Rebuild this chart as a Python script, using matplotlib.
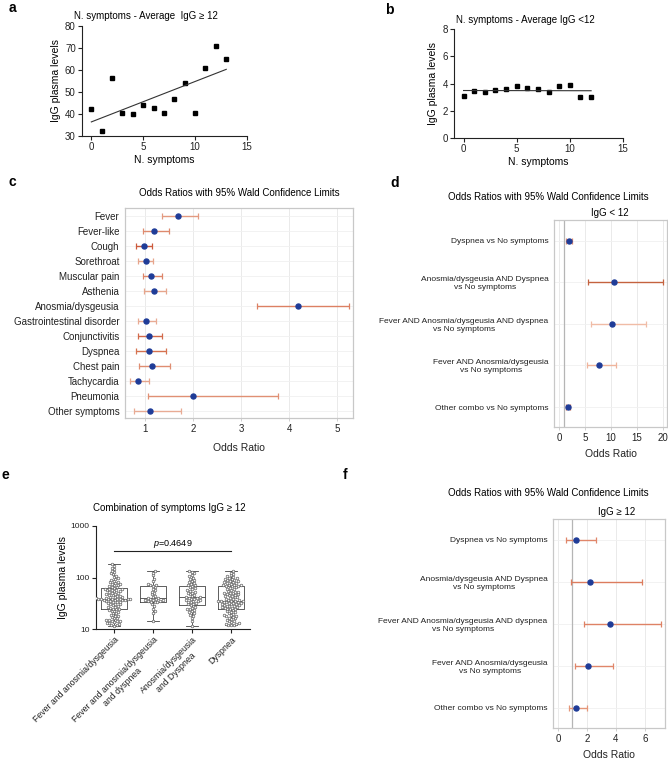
import numpy as np
import matplotlib
matplotlib.use("Agg")
import matplotlib.pyplot as plt

plt.rcParams['font.family'] = ['Liberation Sans', 'DejaVu Sans']
plt.rcParams['mathtext.fontset'] = 'custom'
plt.rcParams['mathtext.it'] = 'Liberation Sans:italic'
plt.rcParams['mathtext.rm'] = 'Liberation Sans'

# ---------------- data ----------------
# panel a
a_x = [0, 1, 2, 3, 4, 5, 6, 7, 8, 9, 10, 11, 12, 13]
a_y = [42.3, 32.3, 56.5, 40.5, 39.8, 44.0, 42.8, 40.5, 47.0, 54.0, 40.5, 60.7, 71.0, 65.0]
# panel b
b_x = [0, 1, 2, 3, 4, 5, 6, 7, 8, 9, 10, 11, 12]
b_y = [3.05, 3.45, 3.4, 3.5, 3.6, 3.8, 3.7, 3.6, 3.4, 3.8, 3.9, 3.0, 3.0]

# panel c
c_labels = ["Fever", "Fever-like", "Cough", "Sorethroat", "Muscular pain", "Asthenia",
            "Anosmia/dysgeusia", "Gastrointestinal disorder", "Conjunctivitis", "Dyspnea",
            "Chest pain", "Tachycardia", "Pneumonia", "Other symptoms"]
c_or = [1.68, 1.19, 0.97, 1.01, 1.13, 1.18, 4.18, 1.01, 1.08, 1.08, 1.15, 0.86, 1.99, 1.10]
c_lo = [1.36, 0.95, 0.80, 0.85, 0.95, 0.97, 3.34, 0.85, 0.86, 0.80, 0.88, 0.68, 1.05, 0.77]
c_hi = [2.11, 1.49, 1.15, 1.17, 1.36, 1.43, 5.24, 1.22, 1.36, 1.44, 1.51, 1.09, 3.76, 1.74]

# panels d / f
combo_labels = ["Dyspnea vs No symptoms",
                "Anosmia/dysgeusia AND Dyspnea\nvs No symptoms",
                "Fever AND Anosmia/dysgeusia AND dyspnea\nvs No symptoms",
                "Fever AND Anosmia/dysgeusia\nvs No symptoms",
                "Other combo vs No symptoms"]
d_or = [1.8, 10.6, 10.15, 7.67, 1.7]
d_lo = [1.28, 5.56, 6.13, 5.37, 1.35]
d_hi = [2.43, 20.1, 16.7, 10.9, 2.1]
f_or = [1.24, 2.22, 3.59, 2.10, 1.26]
f_lo = [0.55, 0.87, 1.83, 1.21, 0.76]
f_hi = [2.63, 5.81, 7.09, 3.78, 1.97]

# panel e
e_labels = ["Fever and anosmia/dysgeusia",
            "Fever and anosmia/dysgeusia\nand dyspnea",
            "Anosmia/dysgeusia\nand Dyspnea",
            "Dyspnea"]
e_g1 = [11.6, 12, 12, 12.5, 13, 13, 13.5, 14, 14, 14.5, 15, 15, 16, 16, 17, 17.5, 18, 19, 20, 20,
        21, 22, 22.5, 23, 24,
        24.5, 25, 26, 27, 27, 28, 29, 30, 30, 31, 32, 33, 33, 34, 35, 35, 36, 36, 37, 37, 37.5,
        38, 38, 38, 38,
        38.5, 39, 39, 40, 40, 41, 41, 42, 43, 44, 45, 46, 47, 48, 50, 51, 52, 54, 55, 56, 57,
        58, 59, 60, 61,
        62, 64, 66, 68, 70, 72, 74, 76, 78, 80, 83, 86, 90, 94, 98, 102, 108, 115, 120, 128,
        135, 145, 155, 168, 180]
e_g2 = [14.5, 20, 22, 25, 28, 31, 33, 34, 34, 35, 35, 36, 36, 37, 38, 39, 40, 40.5, 42, 44,
        47, 50, 53, 56, 60, 64, 68, 70, 72, 76, 85, 95, 110, 125, 134]
e_g3 = [11.6, 14, 16, 18, 19, 20, 21, 22, 23, 24, 25, 26, 27, 29,
        30, 31, 32, 33, 34, 35, 35, 36, 37, 38, 39, 40, 40, 41,
        42, 43, 45, 47, 49, 51, 53, 55, 57, 60, 62, 65, 67.7,
        70, 72, 75, 78, 82, 86, 90, 95, 100, 106, 112, 120, 128, 134]
e_g4 = [12, 12, 12, 12.5, 12.5, 13, 13.5, 14, 14.5, 15, 15.5, 16, 16.5, 17, 17.5, 18, 18.5,
        19, 19.5, 20, 21, 21.5, 22, 23, 24,
        24.5, 25, 25.5, 26, 26.5, 27, 27.5, 28, 28.5, 29, 29.5, 30, 30.5, 31, 31.5, 32, 32.5,
        33, 33.5, 34, 34.5, 35, 35, 35.5, 35.5,
        36, 37, 38, 39, 40, 41, 42, 43, 44, 45, 46, 47, 48, 49, 50, 51, 52, 53, 55, 57, 59, 61,
        63, 65, 67,
        68, 69, 70, 71, 72, 73, 75, 77, 78, 80, 82, 84, 86, 88, 90, 92, 94, 96, 98, 101, 105,
        110, 116, 124, 134]
e_q1 = [24, 34, 29, 24]
e_med = [37.8, 40.5, 41, 35.5]
e_q3 = [61.6, 69, 67.7, 67]
e_min = [11.6, 14.5, 11.6, 12]
e_max = [180, 134, 134, 134]
e_pvalue = "0.4649"

# ---------------- figure ----------------
W, H = 668, 762
fig = plt.figure(figsize=(W / 100, H / 100), dpi=100)


def ax_px(x0, y0, x1, y1):
    return fig.add_axes([x0 / W, 1 - y1 / H, (x1 - x0) / W, (y1 - y0) / H])


def ftext(x, y, s, **kw):
    fig.text(x / W, 1 - y / H, s, **kw)


def prism(ax):
    for s in ['top', 'right']:
        ax.spines[s].set_visible(False)
    for s in ['left', 'bottom']:
        ax.spines[s].set_linewidth(0.8)
        ax.spines[s].set_color('#222222')
    ax.tick_params(direction='out', length=3, width=0.8, labelsize=7, colors='#222222', pad=1.5)


# ---- a ----
axa = ax_px(82, 26, 247, 136)
prism(axa)
axa.plot(a_x, a_y, 's', color='black', markersize=3.4)
pa = np.polyfit(a_x, a_y, 1)
xx = np.array([min(a_x), max(a_x)])
axa.plot(xx, np.polyval(pa, xx), color='#333333', lw=0.8)
axa.set_xlim(-0.9, 15)
axa.set_ylim(30, 80)
axa.set_xticks([0, 5, 10, 15])
axa.set_yticks([30, 40, 50, 60, 70, 80])
axa.set_xlabel("N. symptoms", fontsize=7.5, labelpad=2)
axa.set_ylabel("IgG plasma levels", fontsize=7.5, labelpad=3)
ftext(146, 16, "N. symptoms - Average  IgG \u2265 12", fontsize=7, ha='center', va='center')
ftext(12, 8, "a", fontsize=10, fontweight='bold', ha='center', va='center')

# ---- b ----
axb = ax_px(454, 29, 623, 138)
prism(axb)
axb.plot(b_x, b_y, 's', color='black', markersize=3.4)
pb = np.polyfit(b_x, b_y, 1)
xx = np.array([min(b_x), max(b_x)])
axb.plot(xx, np.polyval(pb, xx), color='#333333', lw=0.8)
axb.set_xlim(-0.9, 15)
axb.set_ylim(0, 8)
axb.set_xticks([0, 5, 10, 15])
axb.set_yticks([0, 2, 4, 6, 8])
axb.set_xlabel("N. symptoms", fontsize=7.5, labelpad=2)
axb.set_ylabel("IgG plasma levels", fontsize=7.5, labelpad=3)
ftext(525, 20, "N. symptoms - Average IgG <12", fontsize=7, ha='center', va='center')
ftext(389, 10, "b", fontsize=10, fontweight='bold', ha='center', va='center')

# ---- forest style ----
DOT = '#1f3c98'


def forest(ax, labels, orv, lo, hi, colors, xlim, xticks, ref=None, lblsize=7):
    n = len(labels)
    ys = np.arange(n)
    ax.set_xlim(*xlim)
    ax.set_ylim(n - 0.52, -0.5)
    for s in ax.spines.values():
        s.set_color('#c8c8c8')
        s.set_linewidth(0.9)
    ax.set_xticks(xticks)
    ax.set_yticks(ys)
    ax.set_yticklabels(labels, fontsize=lblsize, multialignment='center')
    ax.tick_params(axis='y', length=0, pad=4, colors='#222222')
    ax.tick_params(axis='x', length=2.5, width=0.6, color='#c8c8c8', labelsize=7,
                   labelcolor='#222222', pad=2)
    for xt in xticks:
        ax.axvline(xt, color='#e6e6e6', lw=0.6, zorder=0)
    for y in ys:
        ax.axhline(y, color='#f0f0f0', lw=0.6, zorder=0)
    if ref is not None:
        ax.axvline(ref, color='#b5b5b5', lw=0.9, zorder=1)
    for i in range(n):
        ax.errorbar(orv[i], ys[i], xerr=[[orv[i] - lo[i]], [hi[i] - orv[i]]], fmt='none',
                    ecolor=colors[i], elinewidth=1.0, capsize=2.2, capthick=0.9, zorder=2)
        ax.plot(orv[i], ys[i], 'o', color=DOT, markersize=3.6, zorder=3)
    ax.set_xlabel("Odds Ratio", fontsize=7.5, color='#222222')


# ---- c ----
axc = ax_px(125, 208, 353, 418)
c_colors = ['#e39a80', '#de8a6e', '#cc5a3c', '#e6a58c', '#dd8569', '#e6a58c', '#dc8063',
            '#e8ab94', '#d26a4b', '#d6724f', '#df8d71', '#e6a58c', '#e09074', '#e8ab94']
forest(axc, c_labels, c_or, c_lo, c_hi, c_colors, (0.58, 5.33), [1, 2, 3, 4, 5])
axc.xaxis.labelpad = 6
ftext(239, 193, "Odds Ratios with 95% Wald Confidence Limits", fontsize=7, ha='center',
      va='center')
ftext(12, 182, "c", fontsize=10, fontweight='bold', ha='center', va='center')

# ---- d ----
axd = ax_px(554, 220, 667, 427)
d_colors = ['#e0866a', '#c4623f', '#f0bca6', '#efb49c', '#d8704f']
forest(axd, combo_labels, d_or, d_lo, d_hi, d_colors, (-1, 20.8), [0, 5, 10, 15, 20],
       ref=1, lblsize=6)
axd.xaxis.labelpad = 4
ftext(548, 197, "Odds Ratios with 95% Wald Confidence Limits", fontsize=7, ha='center',
      va='center')
ftext(610, 213, "IgG < 12", fontsize=7, ha='center', va='center')
ftext(395, 183, "d", fontsize=10, fontweight='bold', ha='center', va='center')

# ---- f ----
axf = ax_px(553, 519, 665, 728)
f_colors = ['#e0866a', '#dc7c5e', '#de8265', '#e0866a', '#e59678']
forest(axf, combo_labels, f_or, f_lo, f_hi, f_colors, (-0.34, 7.38), [0, 2, 4, 6],
       ref=1, lblsize=6)
axf.xaxis.labelpad = 4
ftext(548, 493, "Odds Ratios with 95% Wald Confidence Limits", fontsize=7, ha='center',
      va='center')
ftext(617, 512, "IgG \u2265 12", fontsize=7, ha='center', va='center')
ftext(345, 475, "f", fontsize=10, fontweight='bold', ha='center', va='center')

# ---- e ----
axe = ax_px(96, 526, 250, 629)
prism(axe)
axe.set_yscale('log')
axe.set_ylim(10, 1000)
axe.set_xlim(-0.46, 3.49)
axe.set_yticks([10, 100, 1000])
axe.set_yticklabels(["10", "100", "1000"])
axe.yaxis.set_minor_locator(matplotlib.ticker.NullLocator())
axe.tick_params(labelsize=6)
axe.set_xticks(range(4))
axe.set_xticklabels(e_labels, rotation=45, ha='right', rotation_mode='anchor',
                    multialignment='center', fontsize=6.3)
axe.set_ylabel("IgG plasma levels", fontsize=7.5, labelpad=2)

stats = []
for i in range(4):
    stats.append(dict(med=e_med[i], q1=e_q1[i], q3=e_q3[i], whislo=e_min[i],
                      whishi=e_max[i], fliers=[]))
axe.bxp(stats, positions=range(4), widths=0.68, showfliers=False,
        boxprops=dict(color='#444444', lw=0.6),
        whiskerprops=dict(color='#444444', lw=0.6),
        capprops=dict(color='#444444', lw=0.6),
        medianprops=dict(color='#444444', lw=0.6), capwidths=0.3, manage_ticks=False)


def swarm(ax, xc, vals, diam):
    pts = ax.transData.transform(np.column_stack([np.full(len(vals), xc, dtype=float),
                                                  np.asarray(vals, dtype=float)]))
    order = np.argsort(pts[:, 1], kind='stable')
    placed = []
    out = pts.copy()
    for i in order:
        cx, y = pts[i]
        cands = [0.0]
        for px, py in placed:
            dy = y - py
            if abs(dy) < diam:
                dx = np.sqrt(diam ** 2 - dy ** 2)
                cands += [px - cx + dx, px - cx - dx]
        cands = sorted(cands, key=abs)
        for c in cands:
            ok = True
            for px, py in placed:
                if (cx + c - px) ** 2 + (y - py) ** 2 < diam ** 2 - 1e-6:
                    ok = False
                    break
            if ok:
                break
        placed.append((cx + c, y))
        out[i, 0] = cx + c
    return ax.transData.inverted().transform(out)


for i, g in enumerate([e_g1, e_g2, e_g3, e_g4]):
    xy = swarm(axe, i, g, 2.7)
    axe.scatter(xy[:, 0], xy[:, 1], s=3.6, facecolors='white', edgecolors='#555555',
                linewidths=0.45, zorder=3)

axe.plot([0, 3], [327, 327], color='#222222', lw=0.8, clip_on=False)
axe.text(1.5, 440, r"$p$=" + e_pvalue, fontsize=6.5, ha='center', va='center')
ftext(169, 508, "Combination of symptoms IgG \u2265 12", fontsize=7, ha='center', va='center')
ftext(5, 475, "e", fontsize=10, fontweight='bold', ha='center', va='center')

fig.savefig("out.png", dpi=100)
